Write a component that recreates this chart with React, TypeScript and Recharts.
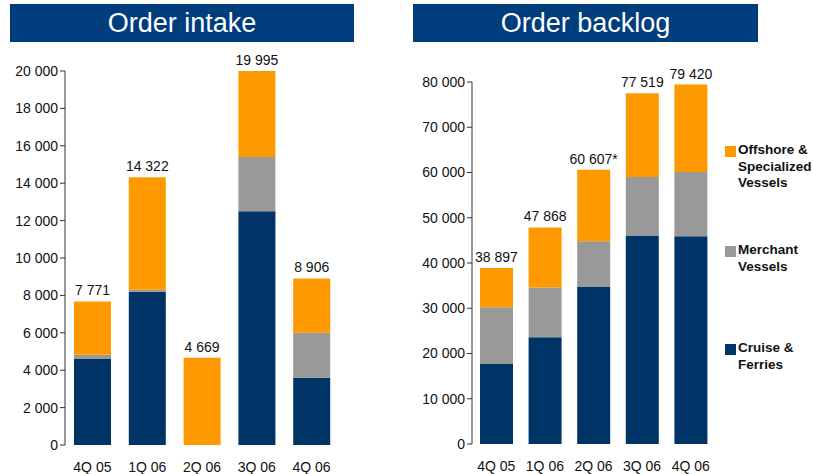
import { BarChart, Bar, XAxis, YAxis, LabelList } from 'recharts';

const quarters = ['4Q 05', '1Q 06', '2Q 06', '3Q 06', '4Q 06'];

// order intake, segments
const intakeCruise = [4600, 8200, 0, 12500, 3600];
const intakeMerchant = [230, 100, 0, 2900, 2400];
const intakeOffshore = [2850, 6020, 4669, 4595, 2906];
const intakeTotals = ['7 771', '14 322', '4 669', '19 995', '8 906'];
const intakeTicks = [0, 2000, 4000, 6000, 8000, 10000, 12000, 14000, 16000, 18000, 20000];

// order backlog
const backlogCruise = [17700, 23600, 34700, 46100, 45900];
const backlogMerchant = [12500, 11000, 10100, 12900, 14200];
const backlogOffshore = [8697, 13268, 15807, 18519, 19320];
const backlogTotals = ['38 897', '47 868', '60 607*', '77 519', '79 420'];
const backlogTicks = [0, 10000, 20000, 30000, 40000, 50000, 60000, 70000, 80000];

const NAVY = '#003366';
const GREY = '#999999';
const ORANGE = '#ff9900';
const FONT = '"Liberation Sans", Arial, sans-serif';

const fmt = (v: number) => v.toLocaleString('en-US').replace(/,/g, ' ');

const intakeData = quarters.map((q, i) => ({
  q, cruise: intakeCruise[i], merchant: intakeMerchant[i], offshore: intakeOffshore[i], total: intakeTotals[i],
}));
const backlogData = quarters.map((q, i) => ({
  q, cruise: backlogCruise[i], merchant: backlogMerchant[i], offshore: backlogOffshore[i], total: backlogTotals[i],
}));

const legend = [
  { name: ['Offshore &', 'Specialized', 'Vessels'], color: ORANGE, top: 142 },
  { name: ['Merchant', 'Vessels'], color: GREY, top: 242 },
  { name: ['Cruise &', 'Ferries'], color: NAVY, top: 340 },
];

function Title({ text, left, width }: { text: string; left: number; width: number }) {
  return (
    <div style={{
      position: 'absolute', left, top: 4, width, height: 38, background: '#003d7d', color: '#fff',
      fontFamily: FONT, fontSize: 27, lineHeight: '38px', textAlign: 'center',
    }}>{text}</div>
  );
}

const totalLabel = (p: any) => (
  <text x={p.x + p.width / 2} y={p.y - 6} textAnchor="middle" fill="#111" fontSize={14} fontFamily={FONT}>
    {p.value}
  </text>
);

function Stack({ data, ticks, max, barSize, yWidth, right, top, height, width }: any) {
  const axisStroke = '#333';
  const tickStyle = { fill: '#111', fontSize: 14, fontFamily: FONT };
  return (
    <BarChart width={width} height={height} data={data} margin={{ top, right, bottom: 0, left: 0 }}>
      <XAxis xAxisId="edge" type="number" domain={[0, 5]} ticks={[0, 1, 2, 3, 4, 5]} tick={false}
        height={0} stroke={axisStroke} tickSize={5} />
      <XAxis xAxisId="cat" dataKey="q" axisLine={false} tickLine={false} height={30}
        tick={tickStyle} tickMargin={11} interval={0} />
      <YAxis domain={[0, max]} ticks={ticks} tickFormatter={fmt} width={yWidth} stroke={axisStroke}
        tick={tickStyle} tickSize={5} interval={0} />
      <Bar xAxisId="cat" dataKey="cruise" stackId="s" fill={NAVY} barSize={barSize} isAnimationActive={false} />
      <Bar xAxisId="cat" dataKey="merchant" stackId="s" fill={GREY} barSize={barSize} isAnimationActive={false} />
      <Bar xAxisId="cat" dataKey="offshore" stackId="s" fill={ORANGE} barSize={barSize} isAnimationActive={false}>
        <LabelList dataKey="total" content={totalLabel} />
      </Bar>
    </BarChart>
  );
}

export default function App() {
  return (
    <div style={{ position: 'absolute', left: 0, top: 0, width: 813, height: 474, background: '#fff', overflow: 'hidden' }}>
      <Title text="Order intake" left={10} width={344} />
      <Title text="Order backlog" left={413} width={345} />
      <div style={{ position: 'absolute', left: 0, top: 0 }}>
        <Stack data={intakeData} ticks={intakeTicks} max={20000} barSize={37} yWidth={65}
          right={61} top={71} height={475} width={400} />
      </div>
      <div style={{ position: 'absolute', left: 400, top: 0 }}>
        <Stack data={backlogData} ticks={backlogTicks} max={80000} barSize={33} yWidth={72}
          right={98} top={82} height={474} width={413} />
      </div>
      {legend.map((l) => (
        <div key={l.color} style={{ position: 'absolute', left: 725, top: l.top, fontFamily: FONT }}>
          <div style={{ position: 'absolute', left: 0, top: 4, width: 11, height: 11, background: l.color }} />
          <div style={{ position: 'absolute', left: 13, top: 0, fontSize: 13.5, fontWeight: 'bold', lineHeight: '16.5px', color: '#111', whiteSpace: 'nowrap' }}>
            {l.name.map((n) => <div key={n}>{n}</div>)}
          </div>
        </div>
      ))}
    </div>
  );
}
